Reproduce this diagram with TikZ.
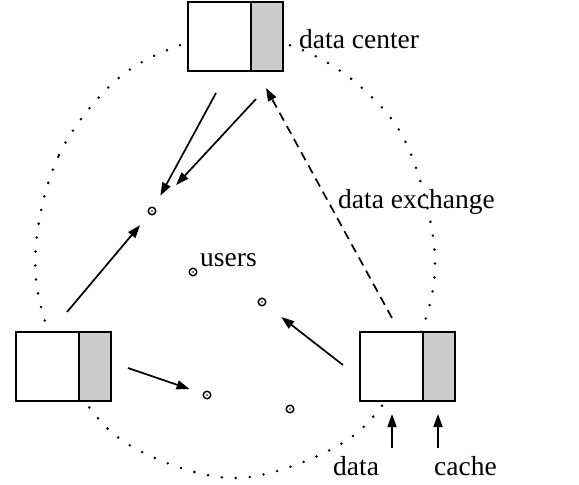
\documentclass[tikz,border=0pt]{standalone}
\usepackage{fontspec}
\setmainfont{Liberation Serif}
\usetikzlibrary{arrows.meta}
\definecolor{cachegray}{gray}{0.8}
\tikzset{
  boxline/.style={line width=1.8pt},
  link/.style={line width=1.7pt,-{Triangle[length=13pt,width=9pt]}},
  user/.style={circle,draw,line width=1.4pt,inner sep=0pt,minimum size=7.5pt,
    path picture={\fill (path picture bounding box.center) circle (0.9pt);}},
  lbl/.style={font=\fontsize{27.5}{30}\selectfont,inner sep=0pt,anchor=base west}
}
\def\serverbox(#1,#2)#3{%
  \draw[boxline,fill=white] (#1,#2) rectangle +(63,69);
  \draw[boxline,fill=cachegray] (#1+63,#2) rectangle +(32,69);
  \coordinate (#3) at (#1+47,#2+34.5);}

\begin{document}
\begin{tikzpicture}[x=1pt,y=-1pt]
			\useasboundingbox (0,0) rectangle (579,485);
			%%%%% ring %%%%%
			\draw[line width=2.8pt,line cap=round,dash pattern=on 0pt off 14pt]
			  plot[smooth cycle,tension=0.6] coordinates {(36,245) (59,155) (113,83) (175,47) (235,36)
			  (300,49) (361,87) (407,145) (434,245) (425,321) (384,403) (330,450) (235,478)
			  (140,451) (86,403) (45,321)};
			
			%%%%% servers %%%%%
			\serverbox(188,2){top}
			\serverbox(16,332){left}
			\serverbox(360,332){right}
			
			%%%%% users %%%%%
			\node[user] (u1) at (152,211) {};
			\node[user] (u2) at (193,272) {};
			\node[user] (u3) at (262,302) {};
			\node[user] (u4) at (207,395) {};
			\node[user] (u5) at (290,409) {};
			
			%%%%% labels %%%%%
			\node[lbl] (center) at (299,48) {data center};
			\node[lbl] (exch) at (338,208) {data exchange};
			\node[lbl] (users) at (200,266) {users};
			\node[lbl] (data) at (333,475) {data};
			\node[lbl] (cache) at (434,475) {cache};
			
			%%%%% links %%%%%
			\coordinate (s1) at (216,93);
			\coordinate (s2) at (256,99);
			\coordinate (s3) at (67,312);
			\coordinate (s4) at (128,368);
			\coordinate (s5) at (343,365);
			\coordinate (s6) at (392,318);
			\coordinate (e6) at (266,88);
			\draw[link,shorten >=13pt] (s1) -- (u1);
			\draw[link,shorten >=31pt] (s2) -- (u1);
			\draw[link,shorten >=14pt] (s3) -- (u1);
			\draw[link,shorten >=14pt] (s4) -- (u4);
			\draw[link,shorten >=20pt] (s5) -- (u3);
			\draw[link,dash pattern=on 9pt off 6pt] (s6) -- (e6);
			
			\coordinate (a1) at (392,448);
			\coordinate (b1) at (392,414);
			\coordinate (a2) at (438,448);
			\coordinate (b2) at (438,414);
			\draw[link] (a1) -- (b1);
			\draw[link] (a2) -- (b2);
\end{tikzpicture}
\end{document}
